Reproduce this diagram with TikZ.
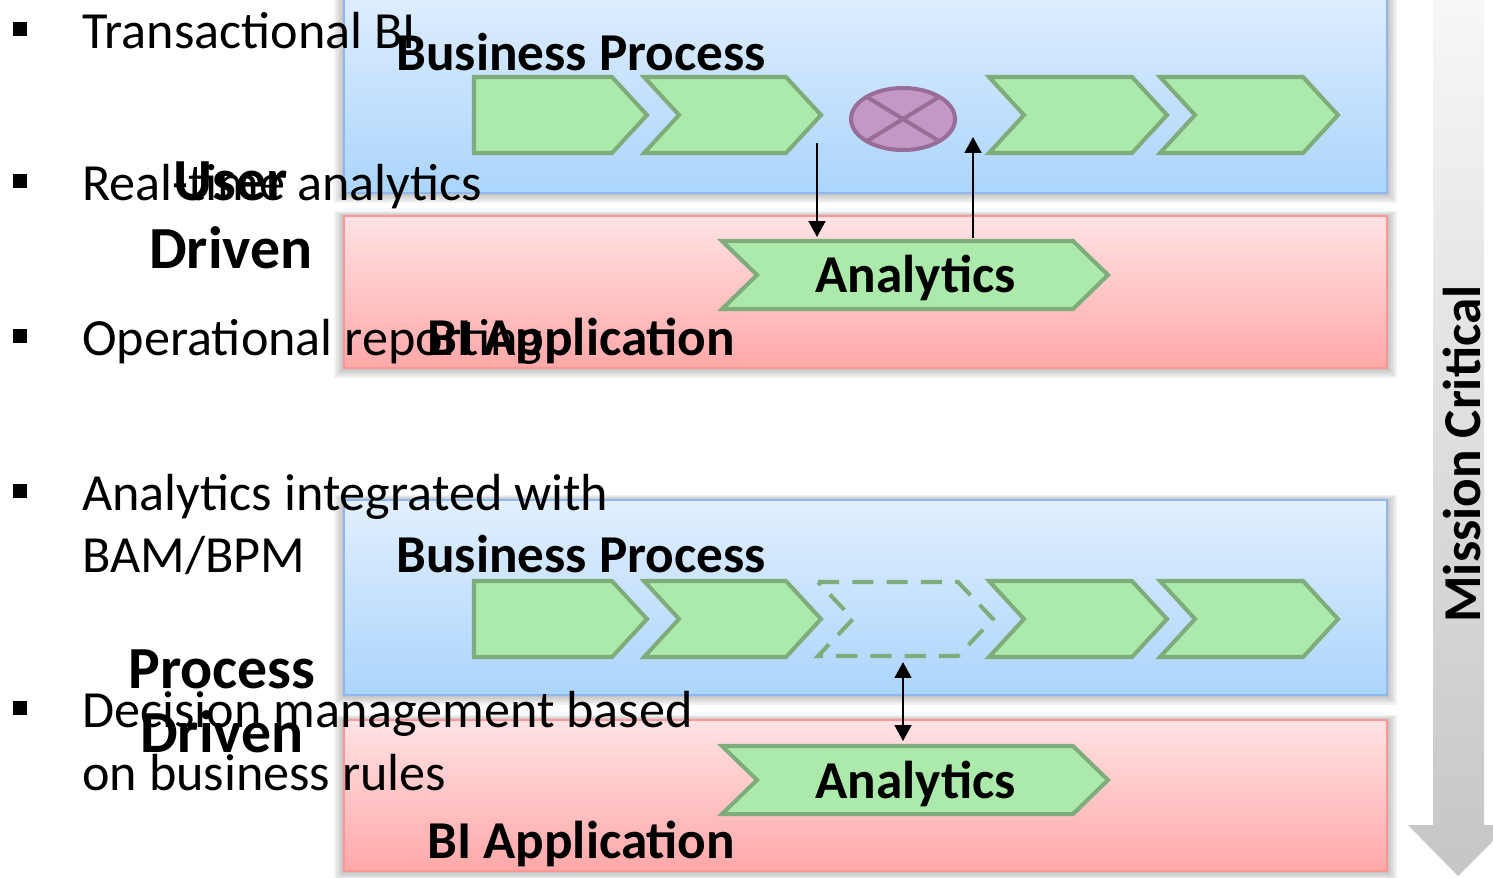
\documentclass[tikz,border=0pt]{standalone}
\usepackage{fontspec}
\setmainfont{Carlito}
\usetikzlibrary{calc,arrows.meta}
\definecolor{cgreen}{RGB}{171,234,171}
\definecolor{cgreenline}{RGB}{126,172,122}
\definecolor{bptop}{RGB}{226,239,254}
\definecolor{bpbot}{RGB}{171,213,252}
\definecolor{bpline}{RGB}{143,184,240}
\definecolor{bitop}{RGB}{255,226,228}
\definecolor{bibot}{RGB}{255,168,168}
\definecolor{biline}{RGB}{255,150,150}
\definecolor{xfill}{RGB}{196,152,196}
\definecolor{xline}{RGB}{152,110,152}
\newcommand{\dd}{35}
% panel with a soft shadow: x1,y1,x2,y2,colour prefix
\newcommand{\panel}[5]{
\foreach \s in {10,8,6,4,2}
  \fill[black,opacity=0.05] ($(#1-\s,#2-\s/2)$) rectangle ($(#3+\s,#4+\s)$);
\shade[draw=#5line,line width=1.1pt,top color=#5top,bottom color=#5bot]
  (#1,#2) rectangle (#3,#4);
}
% process step: left x, mid y, width, half height, name
\newcommand{\stp}[6][]{
\filldraw[stepline,#1] ($(#2,#3-#5)$) -- ++(#4-\dd,0) -- ++(\dd,#5) --
  ++(-\dd,#5) -- ++(-#4+\dd,0) -- ++(\dd,-#5) -- cycle;
\coordinate (#6) at ($(#2+#4/2,#3)$);
}
% first step, flat left end
\newcommand{\stpf}[5]{
\filldraw[stepline] ($(#1,#2-#4)$) -- ++(#3-\dd,0) -- ++(\dd,#4) --
  ++(-\dd,#4) -- ++(-#3+\dd,0) -- cycle;
\coordinate (#5) at ($(#1+#3/2,#2)$);
}
% gateway: centre x, y, name
\newcommand{\gway}[3]{
\coordinate (#3) at (#1,#2);
\filldraw[fill=xfill,draw=xline,line width=2.3pt] (#3) ellipse [x radius=52, y radius=31];
\draw[xline,line width=2.3pt] ($(#3)+(-36,-22)$) -- ($(#3)+(36,22)$);
\draw[xline,line width=2.3pt] ($(#3)+(-36,22)$) -- ($(#3)+(36,-22)$);
}

\begin{document}
\begin{tikzpicture}[x=0.02cm,y=-0.02cm,
  stepline/.style={fill=cgreen,draw=cgreenline,line width=2.3pt},
  flow/.style={line width=1.1pt,-{Triangle[length=9pt,width=9.5pt]}},
  flowboth/.style={line width=1.1pt,{Triangle[length=9pt,width=9.5pt]}-{Triangle[length=9pt,width=9.5pt]}},
  item/.style={anchor=base west,inner sep=0pt,font=\fontsize{29.7}{34}\selectfont},
  lbl/.style={anchor=base west,inner sep=0pt,font=\fontsize{30.3}{34}\selectfont\bfseries},
  side/.style={anchor=base,inner sep=0pt,font=\fontsize{34}{38}\selectfont\bfseries},
  sq/.style={fill=black,minimum size=7.9pt,inner sep=0pt}]
\useasboundingbox (0,0) rectangle (1493,877);

% mission critical
\shade[top color=gray!6,bottom color=gray!45] (1433,-10) -- (1484,-10) -- (1484,825) --
  (1509,825) -- (1458,876) -- (1408,825) -- (1433,825) -- cycle;
\node[lbl,anchor=center,rotate=90] (mc) at (1462,454) {Mission Critical};

% user driven
\panel{344}{-20}{1387}{193}{bp}
\panel{344}{216}{1387}{368}{bi}

\stpf{474}{115}{173}{38}{pa1}
\stp{644}{115}{177}{38}{pa2}
\gway{903}{119}{gw}
\stp{989}{115}{178}{38}{pa3}
\stp{1160}{115}{178}{38}{pa4}

\stp{722}{275}{386}{34}{an1}
\node[lbl] (ant1) at (815,292) {Analytics};

\coordinate (o1) at (817,143);
\coordinate (i1) at (817,237);
\draw[flow] (o1) -- (i1);
\coordinate (o2) at (973,238);
\coordinate (i2) at (973,137);
\draw[flow] (o2) -- (i2);

% process driven
\panel{344}{500}{1387}{695}{bp}
\panel{344}{720}{1387}{871}{bi}

\stpf{474}{619}{173}{38}{pb1}
\stp{644}{619}{177}{38}{pb2}
\stp[fill=none,dash pattern=on 12pt off 7.5pt]{818}{619}{175}{37}{pb3}
\stp{989}{619}{178}{38}{pb4}
\stp{1160}{619}{178}{38}{pb5}

\stp{722}{780}{386}{34}{an2}
\node[lbl] (ant2) at (815,798) {Analytics};

\coordinate (o3) at (903,662);
\coordinate (i3) at (903,741);
\draw[flowboth] (o3) -- (i3);

% labels
\node[lbl] (bp1) at (396,70) {Business Process};
\node[lbl] (bi1) at (427,355) {BI Application};
\node[lbl] (bp2) at (396,572) {Business Process};
\node[lbl] (bi2) at (427,858) {BI Application};

% bullets
\foreach \y/\n in {48/1,200/2,355/3,510/4,727/5}
  \node[sq] (sq\n) at (20,\y-19) {};
\node[item] (t1) at (82,48) {Transactional BI};
\node[item] (t2) at (82,200) {Real-time analytics};
\node[item] (t3) at (82,355) {Operational reporting};
\node[item] (t4) at (82,510) {Analytics integrated with};
\node[item] (t4b) at (82,572) {BAM/BPM};
\node[item] (t5) at (82,727) {Decision management based};
\node[item] (t5b) at (82,790) {on business rules};

\node[side] (ud1) at (231,200) {User};
\node[side] (ud2) at (231,268) {Driven};
\node[side] (pd1) at (222,688) {Process};
\node[side] (pd2) at (222,752) {Driven};
\end{tikzpicture}
\end{document}
